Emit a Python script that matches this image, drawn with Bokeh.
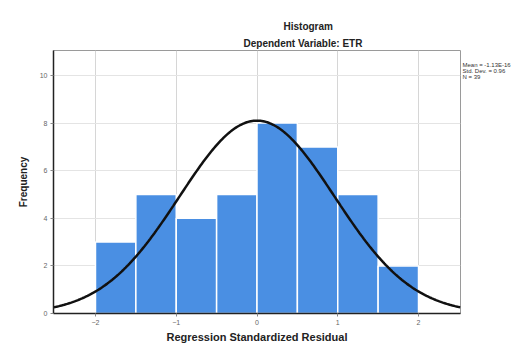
import numpy as np
from bokeh.plotting import figure
from bokeh.models import Range1d, FixedTicker, Title, LinearAxis
from bokeh.embed import file_html
from bokeh.resources import INLINE

bin_left = [-2.0, -1.5, -1.0, -0.5, 0.0, 0.5, 1.0, 1.5]
bin_right = [-1.5, -1.0, -0.5, 0.0, 0.5, 1.0, 1.5, 2.0]
counts = [3, 5, 4, 5, 8, 7, 5, 2]
mean_val = 0.0
sd_val = 0.96
n_val = 39
x_ticks = [-2, -1, 0, 1, 2]
y_ticks = [0, 2, 4, 6, 8, 10]
stats_lines = ["Mean = -1.13E-16", "Std. Dev. = 0.96", "N = 39"]

p = figure(width=518, height=347, output_backend="svg", toolbar_location=None,
           x_range=Range1d(-2.52, 2.52), y_range=Range1d(0, 11.05),
           min_border_left=53, min_border_right=58, min_border_top=50, min_border_bottom=34)

p.background_fill_color = "white"
p.border_fill_color = "white"
p.outline_line_color = "#9a9a9a"
p.outline_line_width = 1

p.quad(left=bin_left, right=bin_right, bottom=0, top=counts,
       fill_color="#4a8fe3", line_color="white", line_width=1.5)

xs = np.linspace(-2.52, 2.52, 300)
scale = n_val * (bin_right[0] - bin_left[0])
ys = scale * np.exp(-0.5 * ((xs - mean_val) / sd_val) ** 2) / (sd_val * np.sqrt(2 * np.pi))
p.line(xs, ys, line_color="#111111", line_width=2.5)

p.xaxis.ticker = FixedTicker(ticks=x_ticks)
p.yaxis.ticker = FixedTicker(ticks=y_ticks)
for ax in (p.xaxis[0], p.yaxis[0]):
    ax.axis_line_color = "#222222"
    ax.axis_line_width = 1.5
    ax.major_tick_line_color = "#888888"
    ax.major_tick_out = 3
    ax.major_tick_in = 0
    ax.minor_tick_line_color = None
    ax.major_label_text_font = "Liberation Sans"
    ax.major_label_text_font_size = "7px"
    ax.major_label_text_color = "#666666"
    ax.major_label_standoff = 3
    ax.axis_label_text_font = "Liberation Sans"
    ax.axis_label_text_font_style = "bold"
    ax.axis_label_text_color = "#222222"

p.xaxis.axis_label = "Regression Standardized Residual"
p.xaxis.axis_label_text_font_size = "11px"
p.xaxis.axis_label_standoff = 3
p.yaxis.axis_label = "Frequency"
p.yaxis.axis_label_text_font_size = "10px"
p.yaxis.axis_label_standoff = 8

p.xgrid.ticker = FixedTicker(ticks=x_ticks)
p.ygrid.ticker = FixedTicker(ticks=[2, 4, 6, 8, 10])
p.xgrid.grid_line_color = "#d6d6d6"
p.ygrid.grid_line_color = "#e4e4e4"

t_sub = Title(text="Dependent Variable: ETR", align="left", offset=190,
              text_font="Liberation Sans", text_font_style="bold",
              text_font_size="10px", text_color="#222222", standoff=4)
t_main = Title(text="Histogram", align="left", offset=230,
               text_font="Liberation Sans", text_font_style="bold",
               text_font_size="10px", text_color="#222222", standoff=4)
p.add_layout(t_sub, "above")
p.add_layout(t_main, "above")

# statistics box, drawn as tick labels of an unlined axis on the right side
stat_pos = [10.46, 10.19, 9.92]
stats_axis = LinearAxis(ticker=FixedTicker(ticks=stat_pos),
                        major_label_overrides={v: s for v, s in zip(stat_pos, stats_lines)},
                        axis_line_color=None, major_tick_line_color=None,
                        minor_tick_line_color=None, major_tick_out=0, major_tick_in=0,
                        major_label_standoff=2,
                        major_label_text_font="Liberation Sans",
                        major_label_text_font_size="6px",
                        major_label_text_color="#333333")
p.add_layout(stats_axis, "right")

open("out.html", "w").write(file_html(p, INLINE))
